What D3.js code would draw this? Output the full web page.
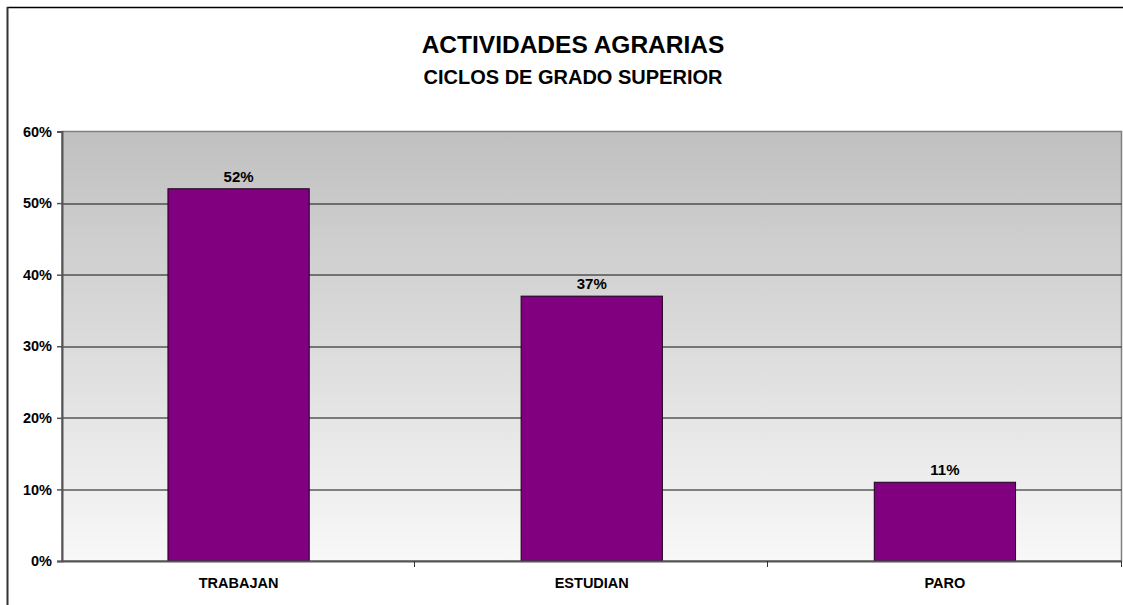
<!DOCTYPE html>
<html>
<head>
<meta charset="utf-8">
<script src="https://cdn.jsdelivr.net/npm/d3@7"></script>
<style>
  body { margin: 0; background: #fff; }
  text { font-family: Arial, "Liberation Sans", sans-serif; font-weight: bold; fill: #000; }
</style>
</head>
<body>
<svg class="chart"></svg>
<script>
// data
const categories = ["TRABAJAN", "ESTUDIAN", "PARO"];
const values = [0.52, 0.37, 0.11];
const yTicks = [0, 0.1, 0.2, 0.3, 0.4, 0.5, 0.6];
const titleLines = ["ACTIVIDADES AGRARIAS", "CICLOS DE GRADO SUPERIOR"];

const canvas = {width: 1123, height: 605};
const margin = {top: 131.5, bottom: 44, right: 1.5, left: 62};
const plot = {
    width: canvas.width - (margin.left + margin.right),
    height: canvas.height - (margin.top + margin.bottom)
};
const font = "Arial, 'Liberation Sans', sans-serif";

const svg = d3.select(".chart")
    .attr("width", canvas.width)
    .attr("height", canvas.height);

// outer chart frame
svg.append("line").attr("x1", 7).attr("x2", canvas.width).attr("y1", 7.5).attr("y2", 7.5)
    .attr("stroke", "#000").attr("stroke-width", 1.5);
svg.append("line").attr("x1", 7.5).attr("x2", 7.5).attr("y1", 7).attr("y2", canvas.height)
    .attr("stroke", "#333").attr("stroke-width", 2);

// titles
svg.append("text").attr("x", 573).attr("y", 53).attr("text-anchor", "middle")
    .style("font-size", "24.5px").text(titleLines[0]);
svg.append("text").attr("x", 573).attr("y", 84).attr("text-anchor", "middle")
    .style("font-size", "20px").text(titleLines[1]);

const x = d3.scaleBand().domain(categories).range([0, plot.width]).padding(0);
const y = d3.scaleLinear().domain([0, 0.6]).range([plot.height, 0]);

const defs = svg.append("defs");
const grad = defs.append("linearGradient").attr("id", "bg")
    .attr("x1", 0).attr("y1", 0).attr("x2", 0).attr("y2", 1);
grad.append("stop").attr("offset", "0%").attr("stop-color", "#c0c0c0");
grad.append("stop").attr("offset", "100%").attr("stop-color", "#f8f8f8");

const g = svg.append("g").attr("transform", "translate(" + margin.left + "," + margin.top + ")");

g.append("rect").attr("width", plot.width).attr("height", plot.height)
    .attr("fill", "url(#bg)").attr("stroke", "#808080").attr("stroke-width", 1.5);

// gridlines
g.selectAll(".grid").data(yTicks.filter(d => d > 0 && d < 0.6)).enter()
    .append("line").attr("class", "grid")
    .attr("x1", 0).attr("x2", plot.width)
    .attr("y1", d => Math.round(y(d)) + 0.5).attr("y2", d => Math.round(y(d)) + 0.5)
    .attr("stroke", "#111").attr("stroke-width", 1);

// bars
const barW = x.bandwidth() * 0.4;
g.selectAll(".bar").data(values).enter()
    .append("rect").attr("class", "bar")
    .attr("x", (d, i) => x(categories[i]) + (x.bandwidth() - barW) / 2)
    .attr("y", d => y(d))
    .attr("width", barW)
    .attr("height", d => plot.height - y(d))
    .attr("fill", "#800080").attr("stroke", "#1a001a").attr("stroke-width", 1);

// value labels
g.selectAll(".lbl").data(values).enter()
    .append("text").attr("class", "lbl")
    .attr("x", (d, i) => x(categories[i]) + x.bandwidth() / 2)
    .attr("y", d => y(d) - 7)
    .attr("text-anchor", "middle")
    .style("font-size", "15px")
    .text(d => d3.format(".0%")(d));

// y axis
const yAxis = d3.axisLeft(y).tickValues(yTicks).tickFormat(d3.format(".0%"))
    .tickSize(5).tickPadding(5);
const yG = g.append("g").call(yAxis);
yG.select(".domain").attr("stroke", "#555").attr("stroke-width", 2);
yG.selectAll(".tick line").attr("stroke", "#555").attr("stroke-width", 1.5);
yG.selectAll(".tick text").style("font-size", "14.5px").style("font-family", font).style("font-weight", "bold");

// x axis
const xAxis = d3.axisBottom(x).tickSize(0).tickPadding(17);
const xG = g.append("g").attr("transform", "translate(0," + plot.height + ")").call(xAxis);
xG.select(".domain").attr("stroke", "#555").attr("stroke-width", 2);
xG.selectAll(".tick text").style("font-size", "14.5px").style("font-family", font).style("font-weight", "bold");
// category separator ticks
xG.selectAll(".sep").data(categories).enter()
    .append("line").attr("class", "sep")
    .attr("x1", d => Math.round(x(d) + x.bandwidth()) - 0.5)
    .attr("x2", d => Math.round(x(d) + x.bandwidth()) - 0.5)
    .attr("y1", 0).attr("y2", 6)
    .attr("stroke", "#333").attr("stroke-width", 1);
</script>
</body>
</html>
